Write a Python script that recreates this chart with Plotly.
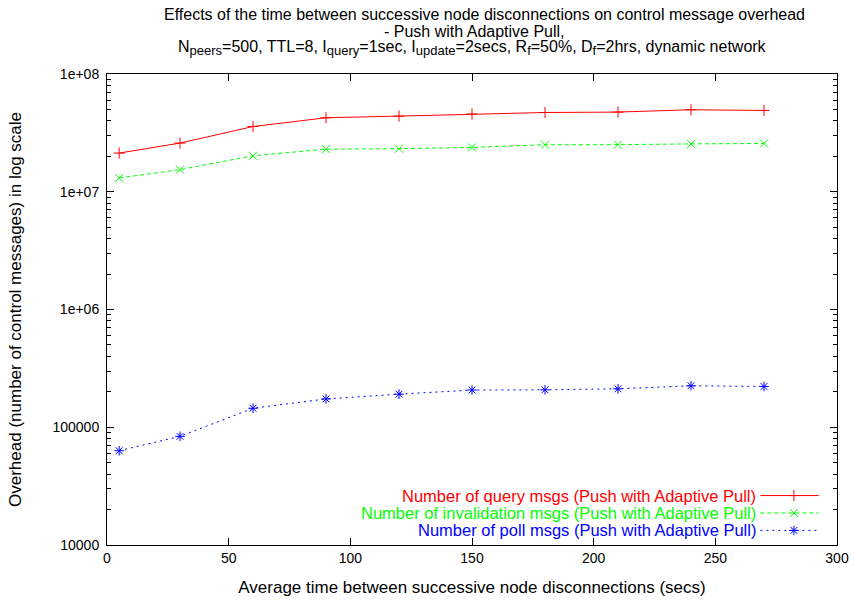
import plotly.graph_objects as go

x_vals = [5, 30, 60, 90, 120, 150, 180, 210, 240, 270]
query_msgs = [2.13e7, 2.59e7, 3.58e7, 4.25e7, 4.39e7, 4.57e7, 4.71e7, 4.75e7, 4.97e7, 4.90e7]
invalidation_msgs = [1.31e7, 1.54e7, 2.02e7, 2.30e7, 2.32e7, 2.38e7, 2.51e7, 2.51e7, 2.55e7, 2.57e7]
poll_msgs = [6.32e4, 8.37e4, 1.45e5, 1.74e5, 1.91e5, 2.07e5, 2.08e5, 2.12e5, 2.25e5, 2.22e5]

series_names = [
    "Number of query msgs (Push with Adaptive Pull)",
    "Number of invalidation msgs (Push with Adaptive Pull)",
    "Number of poll msgs (Push with Adaptive Pull)",
]
colors = ["#ff0000", "#00ff00", "#0000ff"]
dashes = ["solid", "4px,3px", "2px,4px"]
symbols = ["cross-thin-open", "x-thin-open", "asterisk-open"]
x_ticks = [0, 50, 100, 150, 200, 250, 300]
y_tickvals = [1e4, 1e5, 1e6, 1e7, 1e8]
y_ticktext = ["10000", "100000", "1e+06", "1e+07", "1e+08"]

FONT = "Liberation Sans, Arial, sans-serif"

fig = go.Figure()
for name, ys, c, d, s in zip(series_names, [query_msgs, invalidation_msgs, poll_msgs], colors, dashes, symbols):
    fig.add_trace(go.Scatter(
        x=x_vals, y=ys, mode="lines+markers", name=name,
        line=dict(color=c, width=1, dash=d),
        marker=dict(symbol=s, size=8, color=c, line=dict(color=c, width=1)),
        showlegend=False,
    ))

# legend keys (drawn in an overlay axis spanning the plot area)
leg_rows = [0.105, 0.068, 0.031]
for name, c, d, s, ry in zip(series_names, colors, dashes, symbols, leg_rows):
    fig.add_trace(go.Scatter(
        x=[0.895, 0.941, 0.975], y=[ry, ry, ry], mode="lines", xaxis="x2", yaxis="y2",
        line=dict(color=c, width=1, dash=d), showlegend=False, hoverinfo="skip",
    ))
    fig.add_trace(go.Scatter(
        x=[0.941], y=[ry], mode="markers", xaxis="x2", yaxis="y2",
        marker=dict(symbol=s, size=8, color=c, line=dict(color=c, width=1)),
        showlegend=False, hoverinfo="skip",
    ))
    fig.add_annotation(x=0.892, y=ry, xref="x2", yref="y2", text=name, showarrow=False,
                       xanchor="right", yanchor="middle", font=dict(color=c, size=16.5, family=FONT))

fig.update_layout(
    width=854, height=602,
    margin=dict(l=107, r=17, t=74, b=57, autoexpand=False),
    paper_bgcolor="white", plot_bgcolor="white",
    font=dict(family=FONT, size=14, color="black"),
    xaxis=dict(range=[0, 300], tickvals=x_ticks, ticks="inside", ticklen=7, tickwidth=1,
               tickcolor="black", showline=True, linecolor="black", linewidth=1, mirror="allticks",
               showgrid=False, zeroline=False, automargin=False,
               title=dict(text="Average time between successive node disconnections (secs)", standoff=16)),
    yaxis=dict(type="log", range=[4, 8], tickvals=y_tickvals, ticktext=y_ticktext,
               ticks="inside", ticklen=7, tickwidth=1, tickcolor="black",
               showline=True, linecolor="black", linewidth=1, mirror="allticks",
               showgrid=False, zeroline=False, automargin=False, ticklabelstandoff=4,
               minor=dict(ticks="inside", ticklen=4, tickcolor="black", showgrid=False,
                          tickvals=[m * 10 ** e for e in range(4, 8) for m in range(2, 10)]),
               title=dict(text="Overhead (number of control messages) in log scale", standoff=26)),
    xaxis2=dict(overlaying="x", range=[0, 1], visible=False, automargin=False),
    yaxis2=dict(overlaying="y", range=[0, 1], visible=False, automargin=False),
)


def sub(s):
    return "<sub><span style='font-size:13px'>" + s + "</span></sub>"


title_lines = [
    "Effects of the time between successive node disconnections on control message overhead",
    "- Push with Adaptive Pull,",
    "N" + sub("peers") + "=500, TTL=8, I" + sub("query") + "=1sec, I" + sub("update")
    + "=2secs, R" + sub("f") + "=50%, D" + sub("f") + "=2hrs, dynamic network",
]
title_y = [14, 31, 48]
title_shift = [12, 2, 0]
for t, yy, sh in zip(title_lines, title_y, title_shift):
    fig.add_annotation(x=0.5, xref="paper", y=(545 - yy) / 471, xshift=sh,
                       yref="paper", text=t, showarrow=False, xanchor="center", yanchor="middle",
                       font=dict(size=16, family=FONT, color="black"))

fig.write_html("out.html")
